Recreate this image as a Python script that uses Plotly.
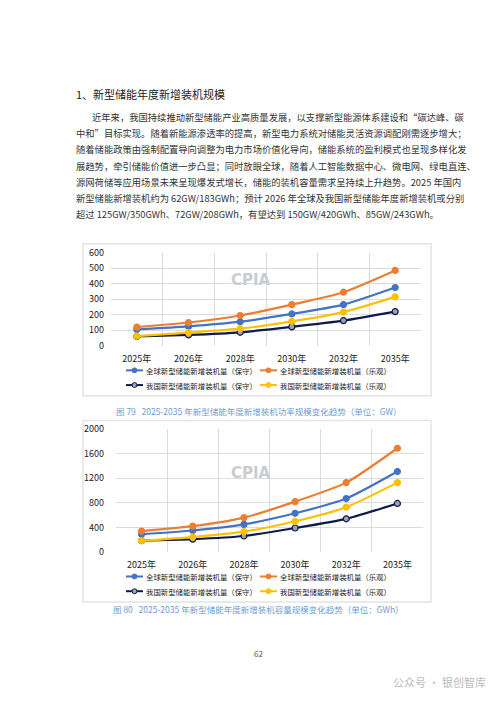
import plotly.graph_objects as go

W, H = 500, 707

years = ["2025年", "2026年", "2028年", "2030年", "2032年", "2035年"]
names = ["全球新型储能新增装机量（保守）", "全球新型储能新增装机量（乐观）",
         "我国新型储能新增装机量（保守）", "我国新型储能新增装机量（乐观）"]
colors = ["#4472C4", "#ED7D31", "#0E1A4A", "#FFC000"]

# 功率 GW
gw_global_low = [105, 125, 155, 205, 265, 375]
gw_global_high = [120, 150, 195, 265, 345, 485]
gw_china_low = [60, 70, 87, 122, 162, 220]
gw_china_high = [62, 85, 110, 157, 217, 315]

# 容量 GWh
gwh_global_low = [290, 350, 450, 630, 870, 1310]
gwh_global_high = [340, 420, 560, 820, 1130, 1690]
gwh_china_low = [183, 208, 260, 390, 540, 790]
gwh_china_high = [183, 243, 330, 500, 730, 1130]

title = "1、新型储能年度新增装机规模"
para = [
    "近年来，我国持续推动新型储能产业高质量发展，以支撑新型能源体系建设和“碳达峰、碳",
    "中和”目标实现。随着新能源渗透率的提高，新型电力系统对储能灵活资源调配刚需逐步增大；",
    "随着储能政策由强制配置导向调整为电力市场价值化导向，储能系统的盈利模式也呈现多样化发",
    "展趋势，牵引储能价值进一步凸显；同时放眼全球，随着人工智能数据中心、微电网、绿电直连、",
    "源网荷储等应用场景未来呈现爆发式增长，储能的装机容量需求呈持续上升趋势。2025 年国内",
    "新型储能新增装机约为 62GW/183GWh；预计 2026 年全球及我国新型储能年度新增装机或分别",
    "超过 125GW/350GWh、72GW/208GWh，有望达到 150GW/420GWh、85GW/243GWh。",
]
cap1 = "图 79   2025-2035 年新型储能年度新增装机功率规模变化趋势（单位：GW）"
cap2 = "图 80   2025-2035 年新型储能年度新增装机容量规模变化趋势（单位：GWh）"

FONT = "Noto Sans CJK SC"


def px(x):
    return x / W


def py(y):
    return 1 - y / H


fig = go.Figure()
xs = list(range(len(years)))
sets = [
    ([gw_global_low, gw_global_high, gw_china_low, gw_china_high], "x", "y"),
    ([gwh_global_low, gwh_global_high, gwh_china_low, gwh_china_high], "x2", "y2"),
]
for series, xa, ya in sets:
    for i, vals in enumerate(series):
        fig.add_trace(go.Scatter(
            x=xs, y=vals, name=names[i], mode="lines+markers", showlegend=False,
            line=dict(color=colors[i], width=2.2, shape="spline", smoothing=0.6),
            marker=dict(size=6, color="#9aa3b5" if i == 2 else colors[i],
                        line=dict(color=colors[i], width=1.2)),
            xaxis=xa, yaxis=ya))

axfont = dict(family=FONT, size=9, color="#222")
xcommon = dict(range=[-0.5, 5.5], tickvals=xs, ticktext=years, showgrid=False,
               tickfont=dict(family=FONT, size=9, color="#222"), ticklen=0,
               minor=dict(tickvals=[-0.5 + k for k in range(7)], showgrid=True,
                          gridcolor="#dcdcdc", ticklen=0),
               zeroline=False, showline=False, ticklabelstandoff=6)
fig.update_layout(
    width=W, height=H, margin=dict(l=0, r=0, t=0, b=0),
    paper_bgcolor="white", plot_bgcolor="white",
    xaxis=dict(domain=[px(103), px(413)], anchor="y", **xcommon),
    yaxis=dict(domain=[py(337), py(242)], range=[0, 600], dtick=100,
               gridcolor="#dcdcdc", tickfont=axfont, zeroline=False, ticks="", ticklabelstandoff=6),
    xaxis2=dict(domain=[px(108), px(415)], anchor="y2", **xcommon),
    yaxis2=dict(domain=[py(547), py(422)], range=[0, 2000], dtick=400,
                gridcolor="#dcdcdc", tickfont=axfont, zeroline=False, ticks="", ticklabelstandoff=6),
)

for y0, y1 in [(233, 388), (413, 598)]:
    fig.add_shape(type="rect", xref="paper", yref="paper", x0=px(75), x1=px(423),
                  y0=py(y1), y1=py(y0), line=dict(color="#e4e4e4", width=1.5), layer="below")

# hand-drawn legends, 2 x 2
for rows in [(362, 377), (572, 587)]:
    for i in range(4):
        ly = rows[i // 2]
        lx = 118 if i % 2 == 0 else 252
        fig.add_shape(type="line", xref="paper", yref="paper", x0=px(lx), x1=px(lx + 17),
                      y0=py(ly), y1=py(ly), line=dict(color=colors[i], width=2))
        fig.add_shape(type="circle", xref="paper", yref="paper",
                      x0=px(lx + 6), x1=px(lx + 11), y0=py(ly + 2.5), y1=py(ly - 2.5),
                      fillcolor="#9aa3b5" if i == 2 else colors[i],
                      line=dict(color=colors[i], width=1))
        fig.add_annotation(x=px(lx + 18), y=py(ly), xref="paper", yref="paper", text=names[i],
                           showarrow=False, xanchor="left", yanchor="middle",
                           font=dict(family=FONT, size=7.4, color="#222"))

ann = [dict(x=px(66), y=py(80), text=title, size=11, color="#222")]
for k, line in enumerate(para):
    ann.append(dict(x=px(82 if k == 0 else 66), y=py(104 + k * 16.5), text=line,
                    size=9.3, color="#333"))
for a in ann:
    fig.add_annotation(x=a["x"], y=a["y"], xref="paper", yref="paper", text=a["text"],
                       showarrow=False, xanchor="left", yanchor="middle",
                       font=dict(family=FONT, size=a["size"], color=a["color"]))
for cap, yy in [(cap1, 403), (cap2, 613)]:
    fig.add_annotation(x=0.5, y=py(yy), xref="paper", yref="paper", text=cap, showarrow=False,
                       font=dict(family=FONT, size=8.5, color="#6d9ed6"))
for yy in [270, 478]:
    fig.add_annotation(x=px(243), y=py(yy), xref="paper", yref="paper", text="<b>CPIA</b>",
                       showarrow=False, font=dict(family="DejaVu Sans", size=15, color="#c8ccd2"))
fig.add_annotation(x=0.5, y=py(658), xref="paper", yref="paper", text="62", showarrow=False,
                   font=dict(family=FONT, size=8, color="#555"))
fig.add_annotation(x=px(480), y=py(690), xref="paper", yref="paper", xanchor="right",
                   text="公众号 · 银创智库", showarrow=False,
                   font=dict(family=FONT, size=11, color="#bbbbbb"))

fig.write_html("out.html")
